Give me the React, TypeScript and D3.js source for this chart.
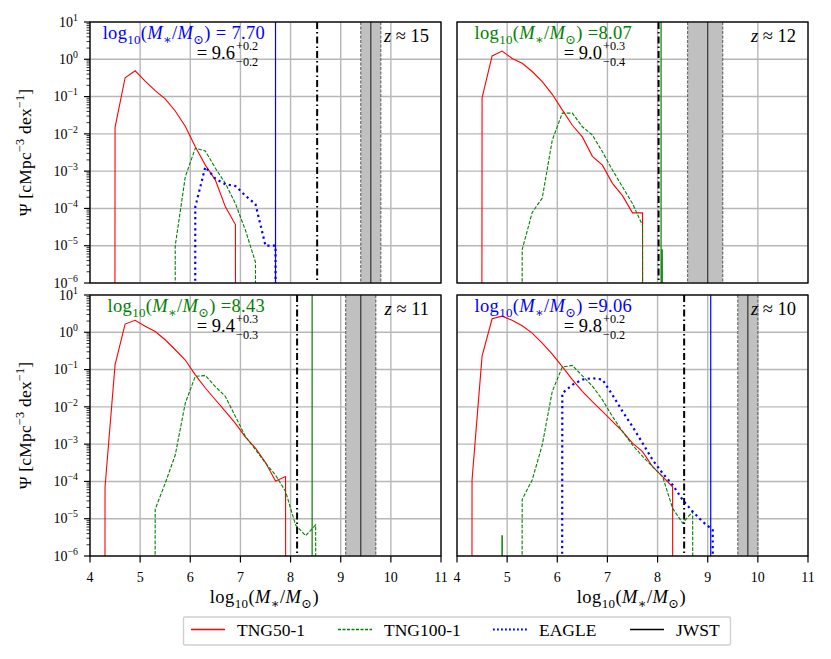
import React from 'react';
import * as d3 from 'd3';

// stellar mass bin centres, log10(M*/Msun)
const massBins = [4.1, 4.3, 4.5, 4.7, 4.9, 5.1, 5.3, 5.5, 5.7, 5.9, 6.1, 6.3, 6.5, 6.7, 6.9, 7.1, 7.3, 7.5, 7.7, 7.9, 8.1, 8.3, 8.5, 8.7, 8.9, 9.1, 9.3];

// Psi [cMpc^-3 dex^-1] per bin, 0 = empty bin
const tng50Z15 = [0, 0, 1.5e-2, 0.32, 0.49, 0.26, 0.145, 0.087, 0.041, 0.016, 4.5e-3, 1.45e-3, 5.8e-4, 1.1e-4, 3.7e-5, 0, 0, 0, 0, 0, 0, 0, 0, 0, 0, 0, 0];
const tng100Z15 = [0, 0, 0, 0, 0, 0, 0, 0, 1.0e-5, 7e-4, 4.1e-3, 3.5e-3, 1.2e-3, 4.7e-4, 1.35e-4, 2.6e-5, 3.6e-6, 0, 0, 0, 0, 0, 0, 0, 0, 0, 0];
const eagleZ15 = [0, 0, 0, 0, 0, 0, 0, 0, 0, 0, 1.1e-4, 1.3e-3, 6.3e-4, 4.4e-4, 4.0e-4, 2.2e-4, 1.3e-4, 1.0e-5, 1.0e-5, 0, 0, 0, 0, 0, 0, 0, 0];

const tng50Z12 = [0, 0, 0.093, 1.23, 1.66, 1.05, 0.78, 0.47, 0.25, 0.115, 0.044, 0.017, 8.3e-3, 2.5e-3, 1.45e-3, 4.7e-4, 2.2e-4, 7.6e-5, 7.6e-5, 0, 0, 0, 0, 0, 0, 0, 0];
const tng100Z12 = [0, 0, 0, 0, 0, 0, 7.9e-6, 7.8e-5, 1.9e-4, 6.8e-3, 0.036, 0.036, 0.0155, 9.3e-3, 3.3e-3, 1.07e-3, 3.8e-4, 1.35e-4, 3.5e-5, 0, 0, 0, 0, 0, 0, 0, 0];

const tng50Z11 = [0, 7.2e-5, 0.135, 1.66, 2.1, 1.45, 1.05, 0.63, 0.34, 0.18, 0.072, 0.032, 0.0155, 7.6e-3, 3.6e-3, 1.55e-3, 7.8e-4, 3.2e-4, 1.02e-4, 1.35e-4, 0, 0, 0, 0, 0, 0, 0];
const tng100Z11 = [0, 0, 0, 0, 0, 0, 1.8e-5, 8.9e-5, 5.1e-4, 0.0126, 0.066, 0.069, 0.035, 0.019, 5.5e-3, 1.6e-3, 7.1e-4, 3.1e-4, 1.48e-4, 5.4e-5, 6.8e-6, 3.5e-6, 6.8e-6, 0, 0, 0, 0];

const tng50Z10 = [0, 1.1e-4, 0.23, 2.3, 2.7, 2.1, 1.5, 0.95, 0.51, 0.26, 0.12, 0.054, 0.026, 0.0138, 7.6e-3, 4.1e-3, 2.2e-3, 1.07e-3, 6.3e-4, 2.5e-4, 1.35e-4, 7.2e-5, 0, 0, 0, 0, 0];
const tng100Z10 = [0, 0, 0, 0, 0, 0, 3.3e-5, 1.1e-4, 9.5e-4, 0.026, 0.117, 0.129, 0.068, 0.036, 0.0155, 5.5e-3, 2.2e-3, 9.5e-4, 4.7e-4, 2.5e-4, 1.35e-4, 1.9e-5, 7.6e-6, 1.55e-5, 0, 0, 0];
const eagleZ10 = [0, 0, 0, 0, 0, 0, 0, 0, 0, 0, 0.023, 0.039, 0.054, 0.059, 0.054, 0.021, 7.6e-3, 2.95e-3, 1.07e-3, 3.8e-4, 1.66e-4, 8.1e-5, 3.2e-5, 1.55e-5, 8.3e-6, 5.0e-6, 0];

const redshifts = ['15', '12', '11', '10'];
const simMass = [7.7, 8.07, 8.43, 9.06];
const simMassText = [' = 7.70', ' =8.07', ' =8.43', ' =9.06'];
const simMassSource = ['EAGLE', 'TNG100-1', 'TNG100-1', 'EAGLE'];
const dashDotMass = [8.53, 8.02, 8.13, 8.53];
const jwstMass = [9.6, 9.0, 9.4, 9.8];
const jwstErrUp = [0.2, 0.3, 0.3, 0.2];
const jwstErrLow = [0.2, 0.4, 0.3, 0.2];
const spikeMass = [null, 8.09, null, 4.9];
const spikeValue = [null, 8.1e-6, null, 3.6e-6];

const xTicks = [4, 5, 6, 7, 8, 9, 10, 11];
const yTickExps = [1, 0, -1, -2, -3, -4, -5, -6];
const seriesNames = ['TNG50-1', 'TNG100-1', 'EAGLE', 'JWST'];

const panelSeries = [
  [tng50Z15, tng100Z15, eagleZ15],
  [tng50Z12, tng100Z12, null],
  [tng50Z11, tng100Z11, null],
  [tng50Z10, tng100Z10, eagleZ10],
];

const styles: Record<string, { stroke: string; width: number; dash?: string }> = {
  'TNG50-1': { stroke: '#ff0000', width: 1.1 },
  'TNG100-1': { stroke: '#008000', width: 1.1, dash: '3.7,1.6' },
  EAGLE: { stroke: '#0000ff', width: 2.2, dash: '2.2,3.4' },
  JWST: { stroke: '#000000', width: 1.3 },
};

const FONT = '"Liberation Serif", "DejaVu Serif", serif';
const FS = 17.5;
const PANEL_FS = 18.5;
const TICK_FS = 14;
const W = 351;
const H = 261;
const origins = [[90, 22], [457, 22], [90, 295], [457, 295]];

const x = d3.scaleLinear().domain([4, 11]).range([0, W]);
const y = d3.scaleLog().domain([1e-6, 1e1]).range([H, 0]);

const line = d3
  .line<number>()
  .x((_, i) => x(massBins[i]))
  .y((v) => y(v > 0 ? v : 1e-300));

const massTspans = (fs: number, suffix: string) => {
  const d = fs * 0.28;
  const s = fs * 0.7;
  return (
    <>
      log
      <tspan dy={d} fontSize={s}>10</tspan>
      <tspan dy={-d}>(</tspan>
      <tspan fontStyle="italic">M</tspan>
      <tspan dy={d} fontSize={s}>∗</tspan>
      <tspan dy={-d}>/</tspan>
      <tspan fontStyle="italic">M</tspan>
      <tspan dy={d} fontSize={s}>⊙</tspan>
      <tspan dy={-d}>){suffix}</tspan>
    </>
  );
};

const Panel: React.FC<{ idx: number }> = ({ idx }) => {
  const [px, py] = origins[idx];
  const showX = idx >= 2;
  const showY = idx % 2 === 0;
  const clipId = `clip-${idx}`;
  const series = panelSeries[idx];
  const minorTicks = y.ticks().filter((t) => Math.abs(Math.log10(t) - Math.round(Math.log10(t))) > 1e-6);
  const simStyle = styles[simMassSource[idx]];
  const bandLo = jwstMass[idx] - jwstErrLow[idx];
  const bandHi = jwstMass[idx] + jwstErrUp[idx];
  const x0 = 145;

  return (
    <g transform={`translate(${px},${py})`}>
      <clipPath id={clipId}>
        <rect x={0} y={0} width={W} height={H} />
      </clipPath>
      {xTicks.map((t) => (
        <line key={`gx${t}`} x1={x(t)} x2={x(t)} y1={0} y2={H} stroke="#b7b7b7" strokeWidth={1.4} />
      ))}
      {yTickExps.map((e) => (
        <line key={`gy${e}`} x1={0} x2={W} y1={y(10 ** e)} y2={y(10 ** e)} stroke="#b7b7b7" strokeWidth={1.4} />
      ))}
      <g clipPath={`url(#${clipId})`}>
        <rect x={x(bandLo)} y={0} width={x(bandHi) - x(bandLo)} height={H} fill="#c0c0c0" />
        {[bandLo, bandHi].map((m) => (
          <line key={m} x1={x(m)} x2={x(m)} y1={0} y2={H} stroke="#555" strokeWidth={1} strokeDasharray="3,1.5" />
        ))}
        <line x1={x(jwstMass[idx])} x2={x(jwstMass[idx])} y1={0} y2={H} stroke="#333" strokeWidth={1.2} />
        {series.map((s, i) =>
          s ? (
            <path
              key={i}
              d={line(s) || ''}
              fill="none"
              stroke={styles[seriesNames[i]].stroke}
              strokeWidth={styles[seriesNames[i]].width}
              strokeDasharray={styles[seriesNames[i]].dash}
            />
          ) : null
        )}
        <line
          x1={x(simMass[idx])}
          x2={x(simMass[idx])}
          y1={0}
          y2={H}
          stroke={simStyle.stroke}
          strokeWidth={1.2}
        />
        <line
          x1={x(dashDotMass[idx])}
          x2={x(dashDotMass[idx])}
          y1={0}
          y2={H}
          stroke="#000"
          strokeWidth={2}
          strokeDasharray="7,3,1.5,3"
        />
        {spikeMass[idx] !== null && (
          <line
            x1={x(spikeMass[idx] as number)}
            x2={x(spikeMass[idx] as number)}
            y1={H}
            y2={y(spikeValue[idx] as number)}
            stroke="#008000"
            strokeWidth={1.5}
          />
        )}
      </g>
      <text x={175} y={16.5} textAnchor="end" fontSize={PANEL_FS} fontFamily={FONT} fill={simStyle.stroke} letterSpacing={0.3}>
        {massTspans(PANEL_FS, simMassText[idx])}
      </text>
      <text x={x0} y={37} textAnchor="end" fontSize={PANEL_FS} fontFamily={FONT} fill="#000">
        {`= ${jwstMass[idx].toFixed(1)}`}
      </text>
      <text x={x0 + 1} y={28} fontSize={PANEL_FS * 0.66} fontFamily={FONT}>{`+${jwstErrUp[idx].toFixed(1)}`}</text>
      <text x={x0 + 1} y={43.5} fontSize={PANEL_FS * 0.66} fontFamily={FONT}>{`−${jwstErrLow[idx].toFixed(1)}`}</text>
      <text x={339} y={20} textAnchor="end" fontSize={PANEL_FS} fontFamily={FONT}>
        <tspan fontStyle="italic">z</tspan> ≈ {redshifts[idx]}
      </text>
      <rect x={0} y={0} width={W} height={H} fill="none" stroke="#000" strokeWidth={1.3} />
      {showY && (
        <g>
          {yTickExps.map((e) => (
            <g key={`ty${e}`}>
              <line x1={-6} x2={0} y1={y(10 ** e)} y2={y(10 ** e)} stroke="#000" strokeWidth={1.2} />
              <text x={-12} y={y(10 ** e) + 4.7} textAnchor="end" fontSize={TICK_FS} fontFamily={FONT}>
                10
                <tspan dy={-6} fontSize={TICK_FS * 0.7}>{e < 0 ? `−${-e}` : `${e}`}</tspan>
              </text>
            </g>
          ))}
          {minorTicks.map((t, i) => (
            <line key={`my${i}`} x1={-3.5} x2={0} y1={y(t)} y2={y(t)} stroke="#000" strokeWidth={0.8} />
          ))}
          <text
            transform={`translate(${31 - px},${H / 2}) rotate(-90)`}
            textAnchor="middle"
            fontSize={FS}
            fontFamily={FONT}
            letterSpacing={0.2}
          >
            Ψ [cMpc
            <tspan dy={-7} fontSize={FS * 0.7}>−3</tspan>
            <tspan dy={7}> dex</tspan>
            <tspan dy={-7} fontSize={FS * 0.7}>−1</tspan>
            <tspan dy={7}>]</tspan>
          </text>
        </g>
      )}
      {showX && (
        <g>
          {xTicks.map((t) => (
            <g key={`tx${t}`}>
              <line x1={x(t)} x2={x(t)} y1={H} y2={H + 6.5} stroke="#000" strokeWidth={1.2} />
              <text x={x(t)} y={H + 26} textAnchor="middle" fontSize={TICK_FS} fontFamily={FONT}>
                {t}
              </text>
            </g>
          ))}
          <text x={W / 2 - 1} y={H + 47} textAnchor="middle" fontSize={PANEL_FS} fontFamily={FONT} letterSpacing={0.4}>
            {massTspans(PANEL_FS, '')}
          </text>
        </g>
      )}
    </g>
  );
};

const legendLineX = [191, 338, 493, 630];

const App: React.FC = () => {
  return (
    <svg
      width={831}
      height={659}
      style={{ position: 'absolute', left: 0, top: 0, background: '#fff' }}
    >
      {[0, 1, 2, 3].map((i) => (
        <Panel key={i} idx={i} />
      ))}
      <rect x={183.5} y={617} width={547} height={28} fill="#fff" stroke="#d0d0d0" strokeWidth={1.4} rx={1.5} />
      {seriesNames.map((name, i) => (
        <g key={name}>
          <line
            x1={legendLineX[i]}
            x2={legendLineX[i] + 34}
            y1={629.5}
            y2={629.5}
            stroke={styles[name].stroke}
            strokeWidth={name === 'EAGLE' ? 2 : 1.3}
            strokeDasharray={name === 'EAGLE' ? '1.8,2.2' : name === 'TNG100-1' ? '3,1.5' : undefined}
          />
          <text x={legendLineX[i] + 46} y={635.5} fontSize={FS} fontFamily={FONT}>
            {name}
          </text>
        </g>
      ))}
    </svg>
  );
};

export default App;
